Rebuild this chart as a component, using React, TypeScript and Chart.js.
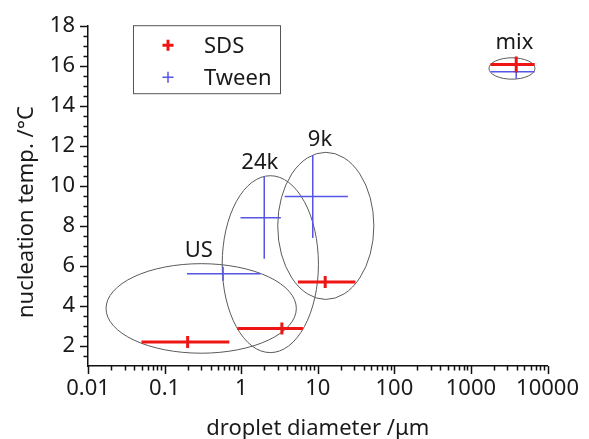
import React, { useEffect, useRef } from "react";
import { Chart, registerables } from "chart.js";

Chart.register(...registerables);

// ---- data ----
const groupLabels = ["US", "24k", "9k", "mix"];

const sdsX = [0.2, 3.4, 12.5, 3900];
const sdsXMin = [0.05, 0.89, 5.5, 1800];
const sdsXMax = [0.7, 6.4, 31, 6800];
const sdsY = [2.2, 2.88, 5.2, 16.08];
const sdsYErr = [0.3, 0.3, 0.3, 0.4];

const tweenX = [0.58, 2.0, 8.6, 3900];
const tweenXMin = [0.196, 0.98, 3.7, 1800];
const tweenXMax = [1.8, 3.3, 24.7, 6800];
const tweenY = [5.62, 8.42, 9.48, 15.72];
const tweenYErr = [0.35, 2.05, 2.07, 0.35];

// ellipse bounding boxes around each group (data units)
const ellXMin = [0.0172, 0.565, 3.0, 1720];
const ellXMax = [5.25, 10.2, 54, 6850];
const ellYMin = [1.64, 1.67, 4.33, 15.35];
const ellYMax = [6.12, 10.52, 11.69, 16.42];

// group label anchor (baseline centre, data units)
const labelX = [0.28, 1.75, 10.7, 3700];
const labelY = [6.45, 10.86, 12.02, 16.84];

const xTickValues = [0.01, 0.1, 1, 10, 100, 1000, 10000];
const yTickValues = [2, 4, 6, 8, 10, 12, 14, 16, 18];

const X_MIN = 0.01;
const X_MAX = 10000;
const Y_MIN = 1;
const Y_MAX = 18;

const RED = "#ee1515";
const BLUE = "#5555e6";
const FONT = "'Noto Sans', 'Open Sans', sans-serif";
const FONT_SIZE = 22;

function makePoints(xs: number[], ys: number[], xMin: number[], xMax: number[], yErr: number[]) {
  return xs.map((x, i) => ({
    x,
    y: ys[i],
    xMin: xMin[i],
    xMax: xMax[i],
    yMin: ys[i] - yErr[i],
    yMax: ys[i] + yErr[i],
  }));
}

const overlayPlugin = {
  id: "overlay",
  beforeDatasetsDraw(chart: any) {
    const { ctx } = chart;
    const xs = chart.scales.x;
    const ys = chart.scales.y;
    ctx.save();
    ctx.strokeStyle = "#5a5a5a";
    ctx.lineWidth = 1;
    for (let i = 0; i < ellXMin.length; i++) {
      const x0 = xs.getPixelForValue(ellXMin[i]);
      const x1 = xs.getPixelForValue(ellXMax[i]);
      const y0 = ys.getPixelForValue(ellYMax[i]);
      const y1 = ys.getPixelForValue(ellYMin[i]);
      ctx.beginPath();
      ctx.ellipse((x0 + x1) / 2, (y0 + y1) / 2, (x1 - x0) / 2, (y1 - y0) / 2, 0, 0, Math.PI * 2);
      ctx.stroke();
    }
    ctx.restore();
  },
  afterDatasetsDraw(chart: any) {
    const { ctx } = chart;
    const xs = chart.scales.x;
    const ys = chart.scales.y;
    ctx.save();
    const order = [1, 0];
    for (const di of order) {
      const ds = chart.data.datasets[di];
      ctx.strokeStyle = ds.borderColor;
      ctx.lineWidth = ds.errorWidth;
      ctx.lineCap = "butt";
      for (const p of ds.data) {
        const px = xs.getPixelForValue(p.x);
        const py = ys.getPixelForValue(p.y);
        ctx.beginPath();
        ctx.moveTo(xs.getPixelForValue(p.xMin), py);
        ctx.lineTo(xs.getPixelForValue(p.xMax), py);
        ctx.moveTo(px, ys.getPixelForValue(p.yMin));
        ctx.lineTo(px, ys.getPixelForValue(p.yMax));
        ctx.stroke();
      }
    }
    // group labels
    ctx.fillStyle = "#1a1a1a";
    ctx.font = `${FONT_SIZE}px ${FONT}`;
    ctx.textAlign = "center";
    ctx.textBaseline = "alphabetic";
    for (let i = 0; i < groupLabels.length; i++) {
      ctx.fillText(groupLabels[i], xs.getPixelForValue(labelX[i]), ys.getPixelForValue(labelY[i]));
    }
    ctx.restore();
  },
  afterDraw(chart: any) {
    const { ctx, chartArea } = chart;
    const xs = chart.scales.x;
    const ys = chart.scales.y;
    ctx.save();
    ctx.strokeStyle = "#111";
    ctx.lineWidth = 1.5;
    // y ticks
    ctx.beginPath();
    for (let k = Y_MIN * 2 + 1; k <= Y_MAX * 2; k++) {
      const v = k / 2;
      const major = yTickValues.includes(v);
      const py = Math.round(ys.getPixelForValue(v)) + 0.5;
      ctx.moveTo(chartArea.left, py);
      ctx.lineTo(chartArea.left - (major ? 8 : 4.5), py);
    }
    // x ticks
    for (let d = 0; d < xTickValues.length; d++) {
      const base = xTickValues[d];
      for (let m = 1; m <= 9; m++) {
        const v = base * m;
        if (v > X_MAX * 1.0001) break;
        const px = Math.round(xs.getPixelForValue(v)) + 0.5;
        ctx.moveTo(px, chartArea.bottom);
        ctx.lineTo(px, chartArea.bottom + (m === 1 ? 8 : 4.5));
      }
    }
    ctx.stroke();

    // axis titles
    ctx.fillStyle = "#1a1a1a";
    ctx.font = `${FONT_SIZE}px ${FONT}`;
    ctx.textAlign = "center";
    ctx.textBaseline = "alphabetic";
    ctx.fillText("droplet diameter /\u03bcm", (chartArea.left + chartArea.right) / 2, 435);
    ctx.save();
    ctx.translate(33, 212);
    ctx.rotate(-Math.PI / 2);
    ctx.fillText("nucleation temp. /\u00b0C", 0, 0);
    ctx.restore();

    // legend box
    const lx = chartArea.left + 45;
    const ly = chartArea.top - 1;
    const lw = 147;
    const lh = 68;
    ctx.strokeStyle = "#555";
    ctx.lineWidth = 1;
    ctx.strokeRect(lx + 0.5, ly + 0.5, lw, lh);
    const rows = chart.data.datasets;
    rows.forEach((ds: any, i: number) => {
      const cy = ly + 20 + i * 32;
      const cx = lx + 35;
      ctx.strokeStyle = ds.borderColor;
      ctx.lineWidth = ds.errorWidth;
      ctx.beginPath();
      ctx.moveTo(cx - 5.5, cy);
      ctx.lineTo(cx + 5.5, cy);
      ctx.moveTo(cx, cy - 5.5);
      ctx.lineTo(cx, cy + 5.5);
      ctx.stroke();
      ctx.fillStyle = "#1a1a1a";
      ctx.textAlign = "left";
      ctx.textBaseline = "alphabetic";
      ctx.fillText(ds.label, lx + 71, cy + 8);
    });
    ctx.restore();
  },
};

export default function App() {
  const canvasRef = useRef<HTMLCanvasElement | null>(null);

  useEffect(() => {
    if (!canvasRef.current) return;
    const chart = new Chart(canvasRef.current, {
      type: "scatter",
      data: {
        datasets: [
          {
            label: "SDS",
            data: makePoints(sdsX, sdsY, sdsXMin, sdsXMax, sdsYErr),
            borderColor: RED,
            backgroundColor: RED,
            pointRadius: 0,
            errorWidth: 3,
          } as any,
          {
            label: "Tween",
            data: makePoints(tweenX, tweenY, tweenXMin, tweenXMax, tweenYErr),
            borderColor: BLUE,
            backgroundColor: BLUE,
            pointRadius: 0,
            errorWidth: 1.5,
          } as any,
        ],
      },
      options: {
        animation: false,
        responsive: false,
        devicePixelRatio: 1,
        layout: { padding: { top: 25, right: 34, bottom: 0, left: 0 } },
        plugins: {
          legend: { display: false },
          tooltip: { enabled: false },
        },
        scales: {
          x: {
            type: "logarithmic",
            min: X_MIN,
            max: X_MAX,
            afterBuildTicks: (scale: any) => {
              scale.ticks = xTickValues.map((v) => ({ value: v }));
            },
            afterFit: (scale: any) => {
              scale.height = 73;
            },
            grid: { display: false, drawTicks: false },
            border: { display: true, color: "#111", width: 1.5 },
            ticks: {
              autoSkip: false,
              maxRotation: 0,
              padding: 10,
              color: "#1a1a1a",
              font: { family: FONT, size: FONT_SIZE },
              callback: (v: any) => String(v),
            },
          },
          y: {
            type: "linear",
            min: Y_MIN,
            max: Y_MAX,
            afterBuildTicks: (scale: any) => {
              scale.ticks = yTickValues.map((v) => ({ value: v }));
            },
            afterFit: (scale: any) => {
              scale.width = 88;
            },
            grid: { display: false, drawTicks: false },
            border: { display: true, color: "#111", width: 1.5 },
            ticks: {
              padding: 13,
              color: "#1a1a1a",
              font: { family: FONT, size: FONT_SIZE },
              callback: (v: any) => String(v),
            },
          },
        },
      } as any,
      plugins: [overlayPlugin],
    });
    return () => chart.destroy();
  }, []);

  return (
    <div style={{ position: "fixed", left: 0, top: 0, width: 589, height: 439, background: "#fff" }}>
      <canvas ref={canvasRef} width={589} height={439} style={{ display: "block" }} />
    </div>
  );
}
